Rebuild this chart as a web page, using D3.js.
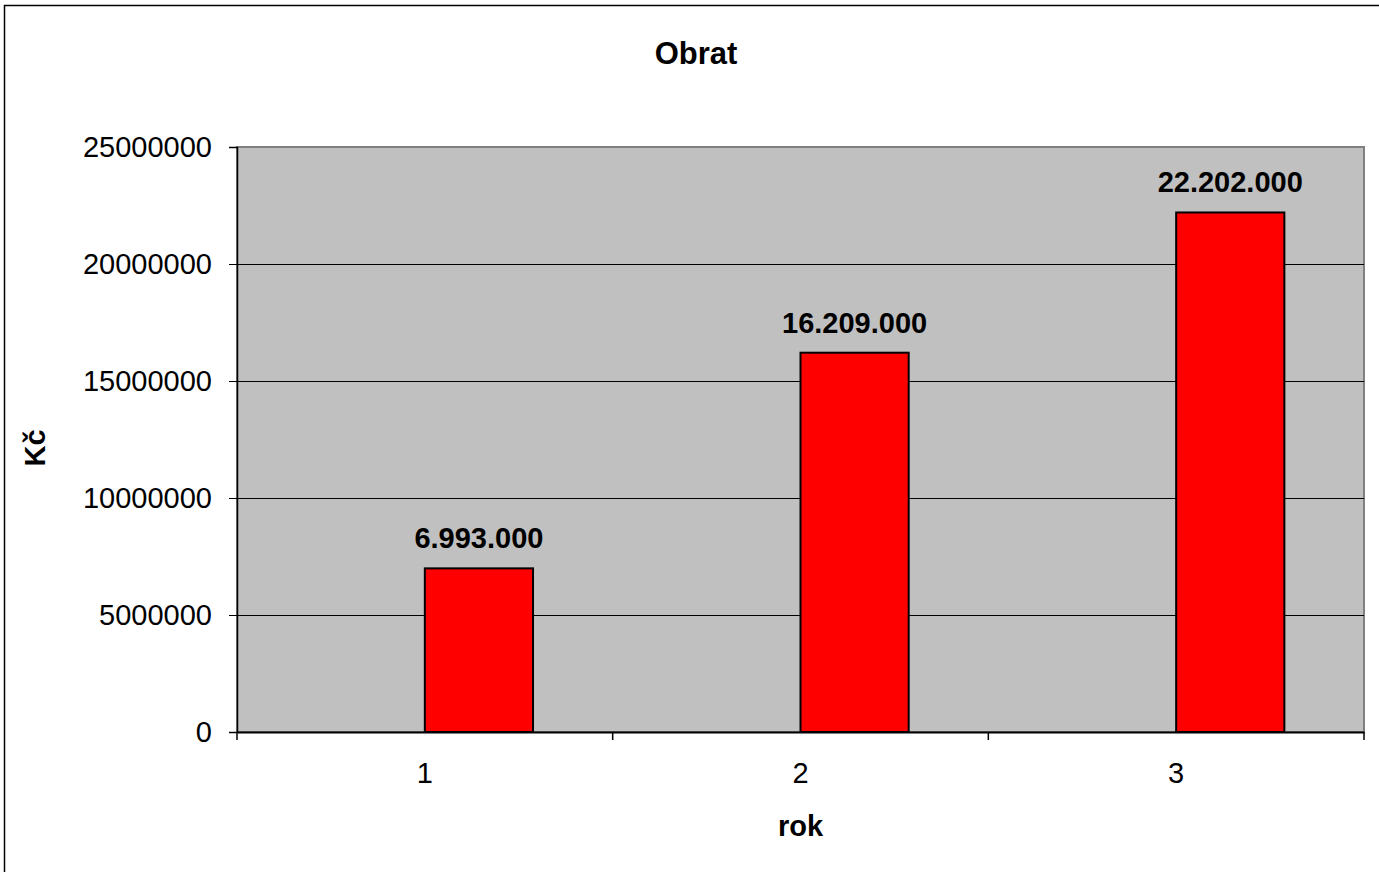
<!DOCTYPE html>
<html>
<head>
<meta charset="utf-8">
<script src="https://cdn.jsdelivr.net/npm/d3@7"></script>
<style>
	body { margin: 0; background: #fff; }
	svg { display: block; font-family: "Liberation Sans", Arial, sans-serif; }
</style>
</head>
<body>
<svg id="chart"></svg>
<script>
const categories = ["1", "2", "3"];
const values = [6993000, 16209000, 22202000];
const valueLabels = ["6.993.000", "16.209.000", "22.202.000"];
const yTicks = [0, 5000000, 10000000, 15000000, 20000000, 25000000];

const width = 1379;
const height = 872;
const plot = { left: 237, right: 1364, top: 147, bottom: 732 };

let svg = d3.select("#chart")
	.attr("width", width)
	.attr("height", height)

// outer frame, right and bottom run off the page
svg.append("rect")
	.attr("x", 4.5)
	.attr("y", 5.5)
	.attr("width", width)
	.attr("height", height)
	.attr("fill", "white")
	.attr("stroke", "black")
	.attr("stroke-width", 1.5)

let xScale = d3.scaleBand()
	.domain(categories)
	.range([plot.left, plot.right])

let yScale = d3.scaleLinear()
	.domain([0, 25000000])
	.range([plot.bottom, plot.top])

// plot area
svg.append("rect")
	.attr("x", plot.left)
	.attr("y", plot.top)
	.attr("width", plot.right - plot.left)
	.attr("height", plot.bottom - plot.top)
	.attr("fill", "#c0c0c0")
	.attr("stroke", "#808080")
	.attr("stroke-width", 2)

let yAxis = d3.axisLeft(yScale)
	.tickValues(yTicks)
	.tickSize(8)
	.tickPadding(17)
	.tickFormat(d3.format("d"))

let gy = svg.append("g")
	.attr("transform", `translate(${plot.left}, 0)`)
	.call(yAxis)
gy.select(".domain").attr("stroke", "black").attr("stroke-width", 1.5)
gy.selectAll(".tick line").attr("stroke", "black").attr("stroke-width", 1)
gy.selectAll("text")
	.style("font-size", "29px")
	.attr("fill", "black")
	.style("font-family", "'Liberation Sans', Arial, sans-serif")

// gridlines
svg.append("g")
	.selectAll("line")
	.data(yTicks.filter(d => d > 0 && d < 25000000))
	.enter()
	.append("line")
		.attr("x1", plot.left)
		.attr("x2", plot.right)
		.attr("y1", d => Math.round(yScale(d)) + 0.5)
		.attr("y2", d => Math.round(yScale(d)) + 0.5)
		.attr("stroke", "black")
		.attr("stroke-width", 1)

// bars sit in the right half of each category slot
const barWidth = xScale.bandwidth() * 0.288;
let center = (d) => xScale(d) + xScale.bandwidth() / 2;

svg.selectAll(".bar")
	.data(values)
	.enter()
	.append("rect")
		.classed("bar", true)
		.attr("x", (d, i) => center(categories[i]))
		.attr("y", d => yScale(d))
		.attr("width", barWidth)
		.attr("height", d => plot.bottom - yScale(d))
		.attr("fill", "#ff0000")
		.attr("stroke", "black")
		.attr("stroke-width", 2)

svg.selectAll(".value-label")
	.data(values)
	.enter()
	.append("text")
		.classed("value-label", true)
		.attr("x", (d, i) => center(categories[i]) + barWidth / 2)
		.attr("y", d => yScale(d) - 20)
		.attr("text-anchor", "middle")
		.style("font-size", "29px")
		.style("font-weight", "bold")
		.text((d, i) => valueLabels[i])

// x axis
let xAxis = d3.axisBottom(xScale)
	.tickSize(0)
	.tickPadding(30)

let gx = svg.append("g")
	.attr("transform", `translate(0, ${plot.bottom})`)
	.call(xAxis)
gx.select(".domain").attr("stroke", "black").attr("stroke-width", 2)
gx.selectAll("text")
	.style("font-size", "29px")
	.attr("fill", "black")
	.style("font-family", "'Liberation Sans', Arial, sans-serif")

// x ticks fall between categories
svg.append("g")
	.selectAll("line")
	.data(d3.range(categories.length + 1))
	.enter()
	.append("line")
		.attr("x1", i => plot.left + i * xScale.step())
		.attr("x2", i => plot.left + i * xScale.step())
		.attr("y1", plot.bottom)
		.attr("y2", plot.bottom + 8)
		.attr("stroke", "black")
		.attr("stroke-width", 1.5)

svg.append("text")
	.attr("x", 696)
	.attr("y", 64)
	.attr("text-anchor", "middle")
	.style("font-size", "31px")
	.style("font-weight", "bold")
	.text("Obrat")

svg.append("text")
	.attr("x", (plot.left + plot.right) / 2)
	.attr("y", 836)
	.attr("text-anchor", "middle")
	.style("font-size", "29px")
	.style("font-weight", "bold")
	.text("rok")

svg.append("text")
	.attr("transform", "rotate(-90)")
	.attr("x", -448)
	.attr("y", 45)
	.attr("text-anchor", "middle")
	.style("font-size", "29px")
	.style("font-weight", "bold")
	.text("Kč")
</script>
</body>
</html>
